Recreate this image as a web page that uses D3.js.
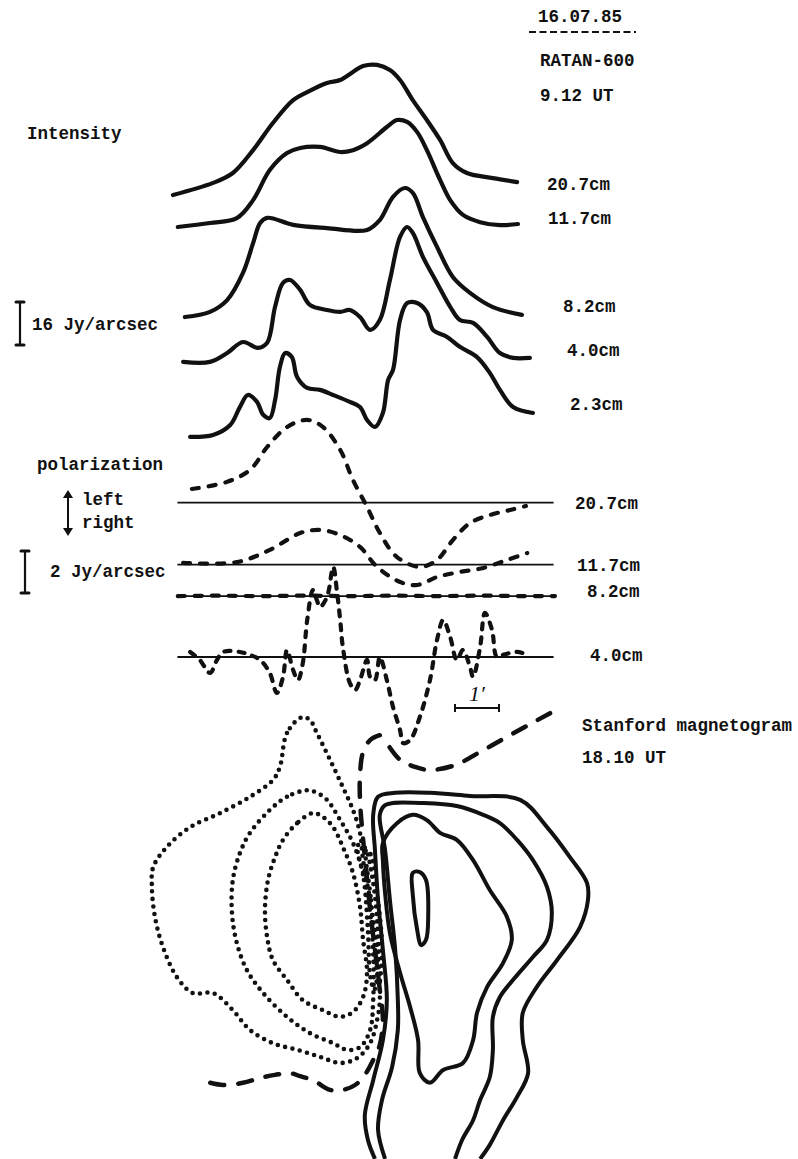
<!DOCTYPE html>
<html>
<head>
<meta charset="utf-8">
<script src="https://cdn.jsdelivr.net/npm/d3@7"></script>
<style>
  body { margin: 0; background: #fff; }
  svg text {
    font-family: "Liberation Mono", "DejaVu Sans Mono", monospace;
    font-weight: bold;
    font-size: 17.5px;
    fill: #111;
  }
</style>
</head>
<body>
<svg id="contenedor"></svg>
<script>
// barridos RATAN-600 del 16.07.85: posicion en arcmin, flujo en Jy/arcsec
let longitudes = ["20.7cm", "11.7cm", "8.2cm", "4.0cm", "2.3cm"];
let longitudesPol = ["20.7cm", "11.7cm", "8.2cm", "4.0cm"];

// desplazamiento vertical de cada curva (Jy/arcsec), para apilarlas
let offsetsIntensidad = [98, 86.5, 53, 36.5, 8.5];
let offsetsPolarizacion = [7.35, 4.4, 2.9, 0];

// intensidad [arcmin, Jy/arcsec]
let int207 = [[0,0.6],[0.91,5.1],[1.36,8.8],[1.82,17.3],[2.27,27.4],[2.73,35.9],[3.05,38.9],[3.5,42.3],[3.8,43.4],[4.09,46.4],[4.32,48.6],[4.64,49.0],[4.93,47.1],[5.16,43.4],[5.45,35.9],[5.77,28.5],[6.07,21.1],[6.36,12.5],[6.68,8.8],[7.27,6.9],[7.82,5.4]];
let int117 = [[0.11,0.2],[0.84,1.7],[1.45,3.5],[1.82,10.2],[2.2,21.4],[2.59,27.7],[2.89,29.6],[3.34,30.0],[3.8,28.1],[4.09,28.8],[4.41,31.4],[4.86,37.4],[5.09,40.0],[5.32,39.3],[5.55,35.5],[5.77,28.8],[6.07,17.7],[6.3,10.2],[6.59,4.7],[6.98,2.0],[7.43,0.9],[7.84,1.3]];
let int82 = [[0.27,0.2],[0.84,2.1],[1.23,6.5],[1.59,16.6],[1.82,27.7],[1.98,35.2],[2.14,37.1],[2.73,34.5],[3.5,33.3],[4.41,32.6],[4.7,36.3],[5.0,44.9],[5.27,48.2],[5.45,46.4],[5.68,37.4],[6.0,26.3],[6.36,15.1],[6.75,9.2],[7.27,3.9],[7.93,1.0]];
let int40 = [[0.23,0],[0.84,0],[1.23,3.3],[1.59,7.4],[1.93,5.2],[2.14,7.1],[2.32,20.5],[2.5,29.4],[2.66,30.5],[2.89,26.8],[3.11,21.2],[3.5,19.3],[3.8,18.6],[4.02,19.3],[4.25,16.7],[4.48,11.9],[4.7,15.6],[4.93,30.5],[5.16,46.5],[5.32,50.2],[5.45,48.0],[5.68,39.1],[6.0,29.4],[6.3,20.5],[6.52,15.6],[6.82,14.5],[7.14,9.3],[7.43,3.3],[7.73,1.5],[8.11,1.5]];
let int23 = [[0.39,0.1],[0.91,0.8],[1.3,4.5],[1.52,11.2],[1.7,15.7],[1.91,13.1],[2.05,8.3],[2.2,7.1],[2.32,13.8],[2.43,26.1],[2.55,31.3],[2.7,29.8],[2.82,22.4],[3.05,18.3],[3.34,17.6],[3.64,15.7],[4.02,13.1],[4.25,11.2],[4.41,6.4],[4.59,3.8],[4.77,9.0],[4.89,21.3],[5.0,25.0],[5.16,43.6],[5.32,49.9],[5.55,49.9],[5.77,46.5],[5.91,39.9],[6.23,37.3],[6.52,33.6],[6.91,29.8],[7.2,23.9],[7.43,17.6],[7.73,11.2],[8.18,9.0]];

// polarizacion (left +, right -) [arcmin, Jy/arcsec]
let pol207 = [[0.43,0.65],[1.23,0.99],[1.75,1.56],[2.14,2.65],[2.59,3.6],[3.05,3.94],[3.41,3.6],[3.8,2.51],[4.09,1.08],[4.41,-0.2],[4.7,-1.44],[5.09,-2.59],[5.61,-3.06],[6.0,-2.73],[6.36,-1.78],[6.75,-0.97],[7.2,-0.59],[7.66,-0.35],[8.02,-0.16]];
let pol117 = [[0.23,0.08],[1.45,0.12],[2.2,0.7],[2.89,1.5],[3.34,1.65],[3.8,1.41],[4.25,0.84],[4.64,-0.11],[5.16,-0.83],[5.55,-0.97],[6.0,-0.59],[6.52,-0.35],[7.05,-0.16],[7.59,0.22],[8.05,0.55]];
let pol82 = [[0.11,0],[1,0.02],[2,0],[3,0.02],[4,0],[5,0.02],[6,0],[7,0.02],[8,0],[8.68,0]];
let pol40 = [[0.39,0.24],[0.61,-0.14],[0.84,-0.76],[1.0,-0.14],[1.14,0.24],[1.52,0.24],[1.75,0.1],[1.98,-0.14],[2.2,-0.76],[2.36,-1.71],[2.5,-0.95],[2.59,0.33],[2.73,-0.62],[2.84,-1.1],[2.95,-0.29],[3.05,1.76],[3.18,3.19],[3.27,2.71],[3.34,2.38],[3.5,2.86],[3.64,4.29],[3.73,3.05],[3.8,1.76],[3.86,0.48],[4.02,-1.24],[4.14,-1.57],[4.25,-1.1],[4.41,-0.14],[4.48,-0.95],[4.59,-1.1],[4.7,0],[4.86,-1.1],[5.0,-2.38],[5.16,-3.48],[5.23,-4.1],[5.39,-3.95],[5.61,-2.86],[5.84,-1.1],[6.0,0.81],[6.14,1.76],[6.3,0.95],[6.45,-0.14],[6.59,0.33],[6.75,-0.48],[6.82,-0.95],[6.98,0.48],[7.09,2.1],[7.25,1.29],[7.36,0],[7.5,0.1],[7.82,0.24],[8.07,0.1]];

// magnetograma de Stanford 18.10 UT [arcmin E-O, arcmin N-S]
let negativo1 = [[2.93,0.39],[2.59,0.75],[2.43,1.52],[2.27,1.82],[1.75,2.2],[1.07,2.57],[0.39,2.89],[-0.14,3.34],[-0.45,3.8],[-0.48,4.25],[-0.41,4.93],[-0.23,5.61],[0.09,6.3],[0.45,6.66],[0.91,6.66],[1.36,7.05],[1.75,7.5],[2.27,7.8],[2.82,7.95],[3.34,8.11],[3.8,8.25],[4.18,8.14],[4.48,7.8],[4.64,7.27],[4.7,6.82],[4.64,5.68],[4.48,4.55],[4.32,3.64],[4.25,3.02],[4.09,2.5],[3.86,1.98],[3.57,1.36],[3.27,0.75],[3.11,0.45]];
let negativo2 = [[3.05,2.05],[2.59,2.2],[2.2,2.5],[1.75,3.02],[1.52,3.48],[1.36,4.09],[1.34,4.84],[1.45,5.52],[1.68,6.14],[2.05,6.66],[2.59,7.2],[3.11,7.57],[3.64,7.8],[3.95,7.95],[4.25,7.89],[4.48,7.5],[4.55,6.82],[4.55,5.75],[4.48,4.84],[4.32,3.93],[4.09,3.25],[3.8,2.73],[3.5,2.27],[3.27,2.11]];
let negativo3 = [[3.18,2.57],[2.82,2.8],[2.5,3.18],[2.32,3.57],[2.16,4.09],[2.09,4.77],[2.14,5.39],[2.27,5.91],[2.59,6.36],[2.95,6.82],[3.41,7.05],[3.8,7.2],[4.09,7.09],[4.32,6.75],[4.41,6.2],[4.32,5.45],[4.25,4.7],[4.09,3.93],[3.86,3.34],[3.64,2.89],[3.41,2.66]];
let negativo4 = [[4.2,3.3],[4.34,4.09],[4.43,5.23],[4.48,6.25],[4.57,6.59],[4.66,6.14],[4.64,5.0],[4.52,3.98],[4.36,3.36]];
let negativo5 = [[4.39,3.41],[4.5,4.55],[4.59,5.68],[4.68,6.48],[4.75,5.68],[4.66,4.55],[4.5,3.52]];
let positivo1 = [[4.59,10.43],[4.43,10.0],[4.36,9.43],[4.55,8.64],[4.77,7.73],[4.86,6.82],[4.77,5.68],[4.66,4.55],[4.59,3.41],[4.55,2.61],[4.66,2.2],[5.05,2.11],[5.84,2.11],[6.75,2.18],[7.89,2.27],[8.5,2.89],[9.02,3.57],[9.41,4.16],[9.43,4.55],[9.25,5.16],[8.73,5.91],[8.27,6.52],[7.95,7.11],[7.95,7.73],[8.07,8.48],[7.82,9.02],[7.5,9.55],[7.2,10.11],[6.98,10.43]];
let positivo2 = [[4.82,10.43],[4.66,9.77],[4.75,9.09],[4.98,8.34],[5.11,7.5],[5.11,6.82],[5.05,5.68],[4.93,4.55],[4.82,3.41],[4.7,2.61],[4.82,2.39],[5.0,2.34],[5.61,2.34],[6.45,2.41],[7.05,2.61],[7.43,2.8],[7.82,3.18],[8.18,3.64],[8.5,4.25],[8.61,4.84],[8.5,5.45],[8.18,5.84],[7.73,6.36],[7.43,6.75],[7.27,7.2],[7.27,7.95],[7.2,8.57],[6.98,9.09],[6.82,9.55],[6.57,10.0],[6.41,10.43]];
let positivo3 = [[4.77,3.25],[5.09,2.8],[5.45,2.61],[5.77,2.73],[6.07,3.02],[6.45,3.18],[6.82,3.64],[7.2,4.32],[7.59,4.93],[7.7,5.45],[7.5,5.98],[7.14,6.52],[6.91,7.11],[6.82,7.73],[6.59,8.25],[6.14,8.41],[5.84,8.7],[5.61,8.48],[5.57,7.73],[5.39,6.98],[5.16,6.2],[4.93,5.3],[4.82,4.39],[4.77,3.64]];
let positivo4 = [[5.45,3.93],[5.61,3.91],[5.75,4.09],[5.8,4.93],[5.75,5.45],[5.64,5.57],[5.55,5.23],[5.45,4.43]];
let neutraA = [[8.57,0.3],[8.11,0.55],[7.55,0.86],[6.98,1.18],[6.41,1.48],[5.84,1.59],[5.5,1.52],[5.16,1.36],[4.86,0.98]];
let neutraB = [[4.7,0.8],[4.48,0.91],[4.32,1.18],[4.25,1.7],[4.25,2.27],[4.3,2.95],[4.39,3.86],[4.48,4.77],[4.59,5.68],[4.7,6.59],[4.77,7.27],[4.7,7.84],[4.55,8.18],[4.36,8.52],[4.14,8.75],[3.86,8.86],[3.57,8.86],[3.18,8.64],[2.89,8.55],[2.66,8.48],[2.32,8.52],[1.98,8.59],[1.59,8.7],[1.14,8.75],[0.77,8.68]];

let intensidades = [int207, int117, int82, int40, int23];
let polarizaciones = [pol207, pol117, pol82, pol40];
let negativos = [negativo1, negativo2, negativo3, negativo4, negativo5];
let positivosAbiertos = [positivo1, positivo2];
let positivosCerrados = [positivo3, positivo4];

// configuracion del area
function getContenedorConfig() {
  let width = 798;
  let height = 1159;
  let container = d3.select("#contenedor");
  container.attr("width", width).attr("height", height);
  return { width, height, container };
} // fin getContenedorConfig

// escalas: 1 arcmin = 44 px (barra de 1')
function getEscalas() {
  let xScale = d3.scaleLinear().domain([0, 10]).range([173, 613]);
  let yInt = d3.scaleLinear().domain([0, 16]).range([460, 417]);
  let yPol = d3.scaleLinear().domain([0, 2]).range([657, 615]);
  let yMapa = d3.scaleLinear().domain([0, 10]).range([700, 1140]);
  return { xScale, yInt, yPol, yMapa };
} // fin getEscalas

function dibujarIntensidad(config, scales) {
  let { container } = config;
  let { xScale, yInt } = scales;
  let g = container.append("g");
  intensidades.forEach((datos, i) => {
    let linea = d3.line()
      .x((d) => xScale(d[0]))
      .y((d) => yInt(d[1] + offsetsIntensidad[i]))
      .curve(d3.curveCatmullRom.alpha(0.5));
    g.append("path")
      .attr("d", linea(datos))
      .attr("fill", "none")
      .attr("stroke", "#111")
      .attr("stroke-width", 4.2)
      .attr("stroke-linecap", "round")
      .attr("stroke-linejoin", "round");
  });

  // etiquetas de longitud de onda
  let posEtiquetas = [[547, 190], [548, 224], [563, 312], [567, 356], [570, 410]];
  g.selectAll(".lbl").data(longitudes).enter().append("text")
    .attr("x", (d, i) => posEtiquetas[i][0])
    .attr("y", (d, i) => posEtiquetas[i][1])
    .text((d) => d);
} // fin dibujarIntensidad

function dibujarPolarizacion(config, scales) {
  let { container } = config;
  let { xScale, yPol } = scales;
  let g = container.append("g");
  polarizaciones.forEach((datos, i) => {
    // linea de cero
    g.append("line")
      .attr("x1", xScale(0.1)).attr("x2", xScale(8.65))
      .attr("y1", yPol(offsetsPolarizacion[i])).attr("y2", yPol(offsetsPolarizacion[i]))
      .attr("stroke", "#111").attr("stroke-width", 1.8);
    let linea = d3.line()
      .x((d) => xScale(d[0]))
      .y((d) => yPol(d[1] + offsetsPolarizacion[i]))
      .curve(d3.curveCatmullRom.alpha(0.5));
    g.append("path")
      .attr("d", linea(datos))
      .attr("fill", "none")
      .attr("stroke", "#111")
      .attr("stroke-width", 4.2)
      .attr("stroke-linecap", "round")
      .attr("stroke-dasharray", i == 3 ? "6 8" : "7 10");
  });

  let posEtiquetas = [[575, 509], [577, 571], [587, 597], [590, 661]];
  g.selectAll(".lbl").data(longitudesPol).enter().append("text")
    .attr("x", (d, i) => posEtiquetas[i][0])
    .attr("y", (d, i) => posEtiquetas[i][1])
    .text((d) => d);
} // fin dibujarPolarizacion

function dibujarMagnetograma(config, scales) {
  let { container } = config;
  let { xScale, yMapa } = scales;
  let g = container.append("g");
  let cerrada = d3.line()
    .x((d) => xScale(d[0])).y((d) => yMapa(d[1]))
    .curve(d3.curveCatmullRomClosed.alpha(0.5));
  let abierta = d3.line()
    .x((d) => xScale(d[0])).y((d) => yMapa(d[1]))
    .curve(d3.curveCatmullRom.alpha(0.5));

  // polaridad negativa: punteado
  negativos.forEach((c) => {
    g.append("path").attr("d", cerrada(c))
      .attr("fill", "none").attr("stroke", "#111")
      .attr("stroke-width", 4.6).attr("stroke-linecap", "round")
      .attr("stroke-dasharray", "0 7.5");
  });

  // polaridad positiva: continuo
  positivosAbiertos.forEach((c) => {
    g.append("path").attr("d", abierta(c))
      .attr("fill", "none").attr("stroke", "#111").attr("stroke-width", 4);
  });
  positivosCerrados.forEach((c) => {
    g.append("path").attr("d", cerrada(c))
      .attr("fill", "none").attr("stroke", "#111").attr("stroke-width", 4);
  });

  // linea neutra: trazos largos
  [neutraA, neutraB].forEach((c) => {
    g.append("path").attr("d", abierta(c))
      .attr("fill", "none").attr("stroke", "#111")
      .attr("stroke-width", 4.5).attr("stroke-linecap", "round")
      .attr("stroke-dasharray", "14 14");
  });
} // fin dibujarMagnetograma

function dibujarTextos(config, scales) {
  let { container } = config;
  let { xScale, yInt, yPol } = scales;
  let g = container.append("g");

  g.append("text").attr("x", 538).attr("y", 22).text("16.07.85");
  g.append("line").attr("x1", 529).attr("x2", 636).attr("y1", 32).attr("y2", 32)
    .attr("stroke", "#111").attr("stroke-width", 2).attr("stroke-dasharray", "7 3.5");
  g.append("text").attr("x", 540).attr("y", 66).text("RATAN-600");
  g.append("text").attr("x", 540).attr("y", 101).text("9.12 UT");

  g.append("text").attr("x", 27).attr("y", 139).text("Intensity");
  g.append("text").attr("x", 37).attr("y", 470).text("polarization");
  g.append("text").attr("x", 82).attr("y", 505).text("left");
  g.append("text").attr("x", 82).attr("y", 528).text("right");
  g.append("text").attr("x", 32).attr("y", 330).text("16 Jy/arcsec");
  g.append("text").attr("x", 50).attr("y", 577).text("2 Jy/arcsec");
  g.append("text").attr("x", 582).attr("y", 731).text("Stanford magnetogram");
  g.append("text").attr("x", 582).attr("y", 763).text("18.10 UT");

  // barras de escala con las escalas de d3
  let barra = (x, y0, largo) => {
    g.append("line").attr("x1", x).attr("x2", x).attr("y1", y0).attr("y2", y0 + largo)
      .attr("stroke", "#111").attr("stroke-width", 2.2);
    [y0, y0 + largo].forEach((y) => {
      g.append("line").attr("x1", x - 4).attr("x2", x + 4).attr("y1", y).attr("y2", y)
        .attr("stroke", "#111").attr("stroke-width", 3).attr("stroke-linecap", "round");
    });
  };
  barra(20, 302, yInt(0) - yInt(16));
  barra(25, 551, yPol(0) - yPol(2));

  // flecha left/right
  g.append("line").attr("x1", 68).attr("x2", 68).attr("y1", 496).attr("y2", 530)
    .attr("stroke", "#111").attr("stroke-width", 2);
  g.append("path").attr("d", "M63,498 L68,490 L73,498 Z M63,528 L68,536 L73,528 Z").attr("fill", "#111");

  // barra de 1 arcmin
  let x0 = 455;
  let x1 = x0 + xScale(1) - xScale(0);
  g.append("line").attr("x1", x0).attr("x2", x1).attr("y1", 708).attr("y2", 708)
    .attr("stroke", "#111").attr("stroke-width", 2);
  [x0, x1].forEach((x) => {
    g.append("line").attr("x1", x).attr("x2", x).attr("y1", 704).attr("y2", 712)
      .attr("stroke", "#111").attr("stroke-width", 2);
  });
  g.append("text").attr("x", 469).attr("y", 701)
    .style("font-family", "Liberation Serif").style("font-style", "italic")
    .style("font-weight", "normal").style("font-size", "22px")
    .text("1′");
} // fin dibujarTextos

function dibujarChart() {
  let config = getContenedorConfig();
  let scales = getEscalas();
  dibujarIntensidad(config, scales);
  dibujarPolarizacion(config, scales);
  dibujarMagnetograma(config, scales);
  dibujarTextos(config, scales);
} // fin dibujarChart

dibujarChart();
</script>
</body>
</html>
